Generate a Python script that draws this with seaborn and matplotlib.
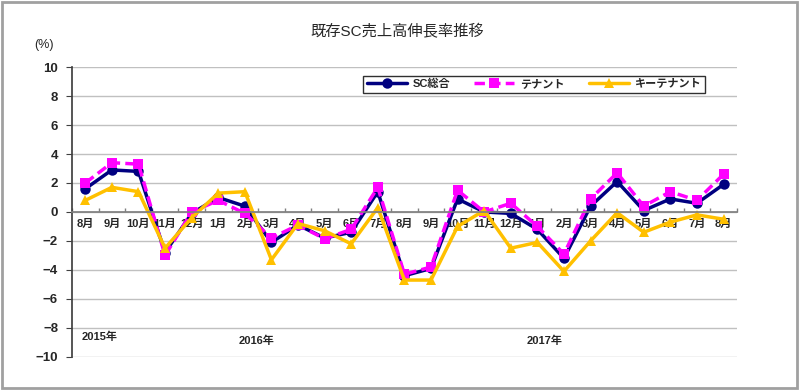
import matplotlib
matplotlib.use('Agg')
import matplotlib.pyplot as plt
import seaborn as sns
import pandas as pd
import numpy as np

# data (Aug 2015 - Aug 2017, YoY %)
months = ['8月', '9月', '10月', '11月', '12月', '1月', '2月', '3月', '4月', '5月', '6月', '7月',
          '8月', '9月', '10月', '11月', '12月', '1月', '2月', '3月', '4月', '5月', '6月', '7月', '8月']
sc_total = [1.6, 2.9, 2.8, -2.8, -0.1, 1.0, 0.4, -2.1, -0.9, -1.8, -1.4, 1.4,
            -4.4, -3.9, 0.9, 0.0, -0.1, -1.2, -3.2, 0.4, 2.1, 0.1, 0.9, 0.6, 1.9]
tenant = [2.0, 3.4, 3.3, -3.0, 0.0, 0.8, -0.1, -1.8, -0.9, -1.85, -1.2, 1.7,
          -4.3, -3.8, 1.5, 0.0, 0.6, -1.0, -2.9, 0.9, 2.7, 0.4, 1.4, 0.8, 2.6]
key_tenant = [0.8, 1.7, 1.4, -2.5, -0.4, 1.3, 1.4, -3.3, -0.8, -1.3, -2.2, 0.3,
              -4.7, -4.7, -1.0, 0.1, -2.5, -2.1, -4.1, -2.0, -0.05, -1.4, -0.7, -0.2, -0.5]
years = ['2015年', '2016年', '2017年']
year_pos = [-0.15, 5.75, 16.6]
year_y = [-8.6, -8.9, -8.9]

sns.set_theme(style='white')
plt.rcParams['font.family'] = ['Liberation Sans', 'Noto Sans CJK JP']
plt.rcParams['axes.unicode_minus'] = True

x = np.arange(len(months))
df = pd.DataFrame({'x': x, 'SC総合': sc_total, 'テナント': tenant, 'キーテナント': key_tenant})

fig = plt.figure(figsize=(8, 3.9), dpi=100)
ax = fig.add_axes([0.09, 0.085, 0.831, 0.743])

sns.lineplot(data=df, x='x', y='SC総合', ax=ax, color='#000080', marker='o', markersize=7.5,
             linewidth=2.5, markeredgewidth=0, label='SC総合')
sns.lineplot(data=df, x='x', y='テナント', ax=ax, color='#FF00FF', marker='s', markersize=6.5,
             linewidth=2.5, markeredgewidth=0, dashes=(3, 1.5), label='テナント')
sns.lineplot(data=df, x='x', y='キーテナント', ax=ax, color='#FFC000', marker='^', markersize=6.5,
             linewidth=2.5, markeredgewidth=0, label='キーテナント')

ax.set_xlim(-0.5, len(months) - 0.5)
ax.set_ylim(-10, 10)
ax.set_yticks(range(-10, 11, 2))
ax.set_yticklabels([f'{v}'.replace('-', '−') for v in range(-10, 11, 2)],
                   fontsize=9.5, fontweight='bold')
ax.yaxis.grid(True, color='#c0c0c0', linewidth=1)
ax.set_axisbelow(True)
ax.tick_params(axis='y', left=True, length=4, width=0.8, color='#404040', pad=6)

# category axis drawn at zero
ax.spines['bottom'].set_position(('data', 0))
ax.spines['bottom'].set_color('#808080')
ax.spines['left'].set_color('#404040')
ax.spines['top'].set_visible(False)
ax.spines['right'].set_visible(False)
ax.set_xticks(x)
ax.set_xticklabels(months, fontsize=8, fontweight='bold')
ax.set_xticks(np.arange(len(months) + 1) - 0.5, minor=True)
ax.tick_params(axis='x', which='major', length=0, pad=5)
ax.tick_params(axis='x', which='minor', bottom=True, direction='in', length=3, color='#808080')
ax.set_xlabel('')
ax.set_ylabel('')

for yr, px, py in zip(years, year_pos, year_y):
    ax.text(px, py, yr, fontsize=8, fontweight='bold', ha='left', va='center')

ax.legend(loc='upper center', bbox_to_anchor=(0.695, 0.99), ncol=3, frameon=True, fancybox=False,
          edgecolor='#303030', framealpha=1, prop={'size': 8, 'weight': 'bold'},
          handlelength=3.6, handletextpad=0.5, columnspacing=2.2, borderpad=0.3)

fig.text(0.497, 0.918, '既存SC売上高伸長率推移', ha='center', va='center', fontsize=11)
fig.text(0.055, 0.885, '(%)', ha='center', va='center', fontsize=9)

fig.patches.append(plt.Rectangle((0.003, 0.006), 0.993, 0.988, transform=fig.transFigure,
                                 fill=False, edgecolor='#a0a0a0', linewidth=2))

fig.savefig('out.png', dpi=100)
